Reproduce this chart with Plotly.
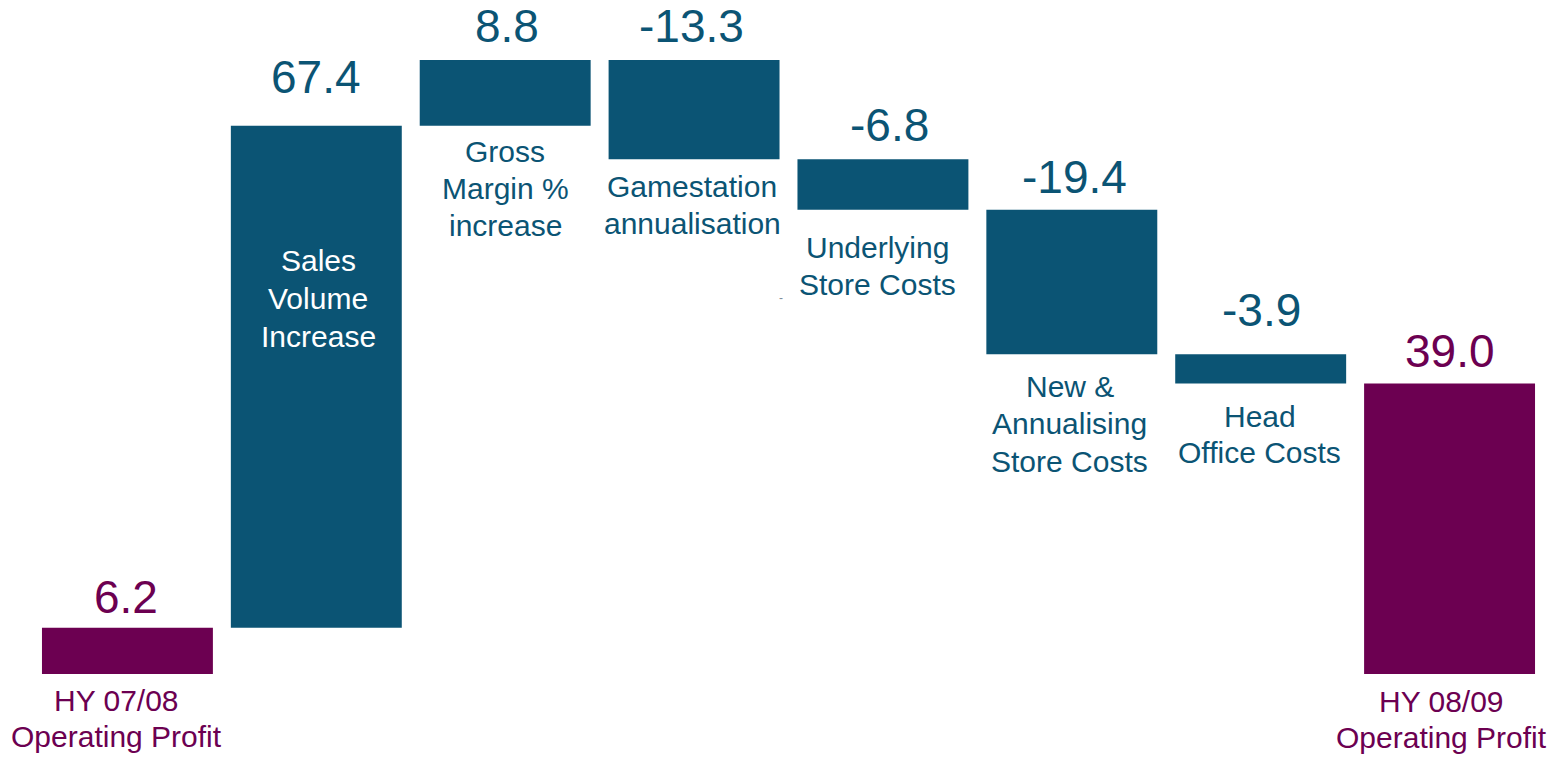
import plotly.graph_objects as go

# ---- data ----
categories = [
    "HY 07/08<br>Operating Profit",
    "Sales<br>Volume<br>Increase",
    "Gross<br>Margin %<br>increase",
    "Gamestation<br>annualisation",
    "Underlying<br>Store Costs",
    "New &<br>Annualising<br>Store Costs",
    "Head<br>Office Costs",
    "HY 08/09<br>Operating Profit",
]
values = [6.2, 67.4, 8.8, -13.3, -6.8, -19.4, -3.9, 39.0]
measures = ["absolute", "relative", "relative", "relative",
            "relative", "relative", "relative", "total"]
value_labels = ["6.2", "67.4", "8.8", "-13.3", "-6.8", "-19.4", "-3.9", "39.0"]

# ---- styling ----
BLUE = "#0B5474"
PURPLE = "#6C0051"
FONT = "Liberation Sans, Arial, sans-serif"
LABEL_SIZE = 30
DESC_PAD = 0.212 * LABEL_SIZE + 1
LINE_STEP = [36, 38, 37, 37, 37, 37.5, 36, 36]

label_colors = [PURPLE, "white", BLUE, BLUE, BLUE, BLUE, BLUE, PURPLE]
value_colors = [PURPLE, BLUE, BLUE, BLUE, BLUE, BLUE, BLUE, PURPLE]
# pixel tweaks for label placement
value_dy = [2.5, 20.5, 6.0, 6.5, 6.5, 4.5, 16.5, 4.5]
value_dx = [-1, 0, 1.5, -3, 6.5, 3, 0.5, 0]
# distance (px) from bar bottom to first label baseline (label 1: from bar top)
first_baseline = [38, 146, 37, 38, 49, 43, 44, 39]
label_dx = [-11, 2, 0, -2, -5, -2, -1, -8]

x = list(range(len(values)))

fig = go.Figure(go.Waterfall(
    x=x, y=values, measure=measures, width=0.905,
    increasing=dict(marker=dict(color=BLUE)),
    decreasing=dict(marker=dict(color=BLUE)),
    totals=dict(marker=dict(color=PURPLE)),
    connector=dict(visible=False),
    textinfo="none", hoverinfo="skip",
))

# compute bar tops / bottoms from data
tops, bottoms = [], []
running = 0.0
for v, m in zip(values, measures):
    if m == "absolute":
        lo, hi = 0.0, v
        running = v
    elif m == "total":
        lo, hi = 0.0, running
    else:
        lo, hi = sorted([running, running + v])
        running += v
    tops.append(hi)
    bottoms.append(lo)

annotations = []
for i in x:
    annotations.append(dict(
        x=i, y=tops[i], xref="x", yref="y", text=value_labels[i],
        showarrow=False, yanchor="bottom", xanchor="center",
        yshift=value_dy[i], xshift=value_dx[i],
        font=dict(family=FONT, size=46, color=value_colors[i]),
    ))
    anchor_y = tops[i] if i == 1 else bottoms[i]
    for k, line in enumerate(categories[i].split("<br>")):
        annotations.append(dict(
            x=i, y=anchor_y, xref="x", yref="y", text=line,
            showarrow=False, yanchor="bottom", xanchor="center",
            yshift=-(first_baseline[i] + k * LINE_STEP[i] + DESC_PAD),
            xshift=label_dx[i],
            font=dict(family=FONT, size=LABEL_SIZE, color=label_colors[i]),
        ))

# small stray dash seen in the original slide
annotations.append(dict(
    x=(781 - 33) / 1511, y=1 - 298 / 758, xref="paper", yref="paper", text="-",
    showarrow=False, xanchor="center", yanchor="middle",
    font=dict(family=FONT, size=12, color="#7f8c99"),
))

fig.update_layout(
    width=1556, height=758,
    margin=dict(l=33, r=12, t=0, b=0),
    paper_bgcolor="white", plot_bgcolor="white",
    showlegend=False,
    xaxis=dict(range=[-0.5, 7.5], visible=False),
    yaxis=dict(range=[-11.27, 90.46], visible=False),
    annotations=annotations,
)

fig.write_html("out.html")
